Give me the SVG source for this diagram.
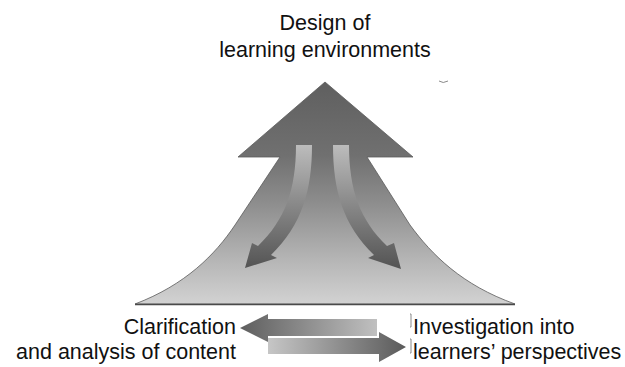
<svg xmlns="http://www.w3.org/2000/svg" width="625" height="367" viewBox="0 0 625 367">
  <style>
    .lbl { font-family: "Liberation Sans", Arial, sans-serif; font-size: 21.5px; fill: #111; }
    .edge { stroke: #5a5a5a; stroke-width: 0.8; }
    .mark { stroke: #8a8a8a; stroke-width: 1; fill: none; }
  </style>
  <defs>
    <linearGradient id="gMountain" gradientUnits="userSpaceOnUse" x1="0" y1="82" x2="0" y2="304">
      <stop offset="0" stop-color="#5f5f5f"/>
      <stop offset="0.33" stop-color="#707070"/>
      <stop offset="0.55" stop-color="#8e8e8e"/>
      <stop offset="0.8" stop-color="#b5b5b5"/>
      <stop offset="1" stop-color="#d2d2d2"/>
    </linearGradient>
    <linearGradient id="gInner" gradientUnits="userSpaceOnUse" x1="0" y1="145" x2="0" y2="268">
      <stop offset="0" stop-color="#bcbcbc"/>
      <stop offset="0.45" stop-color="#8c8c8c"/>
      <stop offset="1" stop-color="#545454"/>
    </linearGradient>
    <linearGradient id="gLeft" gradientUnits="userSpaceOnUse" x1="240" y1="0" x2="377" y2="0">
      <stop offset="0" stop-color="#5e5e5e"/>
      <stop offset="1" stop-color="#c0c0c0"/>
    </linearGradient>
    <linearGradient id="gRight" gradientUnits="userSpaceOnUse" x1="268" y1="0" x2="406" y2="0">
      <stop offset="0" stop-color="#c6c6c6"/>
      <stop offset="1" stop-color="#5a5a5a"/>
    </linearGradient>
  </defs>

  <g id="node-mountain">
    <path class="edge" fill="url(#gMountain)" d="M 325 82 L 413 157 L 367 157 L 410 225 C 432 255, 462 285, 515 304 L 135 304 C 185 285, 215 255, 235 225 L 280 157 L 238 157 Z"/>
    <line x1="135" y1="304.5" x2="515" y2="304.5" stroke="#4a4a4a" stroke-width="1.5"/>
  </g>

  <g id="connectors">
    <path id="arrow-down-left" fill="url(#gInner)" d="M 296 145 L 312 145 C 312 190, 302 225, 271 255 L 277 258 L 245 268 L 252 243 L 258 246 C 285 220, 296 190, 296 145 Z"/>
    <path id="arrow-down-right" fill="url(#gInner)" d="M 349 145 L 333 145 C 333 190, 343 225, 374 255 L 368 258 L 401 269 L 394 243 L 387 246 C 360 220, 349 190, 349 145 Z"/>
    <path id="arrow-left" fill="url(#gLeft)" d="M 240 328 L 268 314 L 268 319 L 377 319 L 377 336 L 268 336 L 268 342 Z"/>
    <path id="arrow-right" fill="url(#gRight)" d="M 406 347 L 379 332 L 379 338 L 268 338 L 268 354 L 379 354 L 379 362 Z"/>
  </g>

  <g id="node-design">
    <text class="lbl" x="325" y="30" text-anchor="middle">Design of</text>
    <text class="lbl" x="325" y="57" text-anchor="middle">learning environments</text>
  </g>

  <g id="node-clarification">
    <text class="lbl" x="236" y="334" text-anchor="end">Clarification</text>
    <text class="lbl" x="236" y="359" text-anchor="end">and analysis of content</text>
  </g>

  <g id="node-investigation">
    <text class="lbl" x="413" y="334">Investigation into</text>
    <text class="lbl" x="413" y="359">learners’ perspectives</text>
  </g>

  <g id="artifacts">
    <path class="mark" d="M 439 81 Q 443 84 448 81"/>
    <path class="mark" d="M 410 314 L 411 314 L 411 327 L 410 327"/>
    <path class="mark" d="M 410 339 L 411 339 L 411 353 L 410 353"/>
  </g>
</svg>
